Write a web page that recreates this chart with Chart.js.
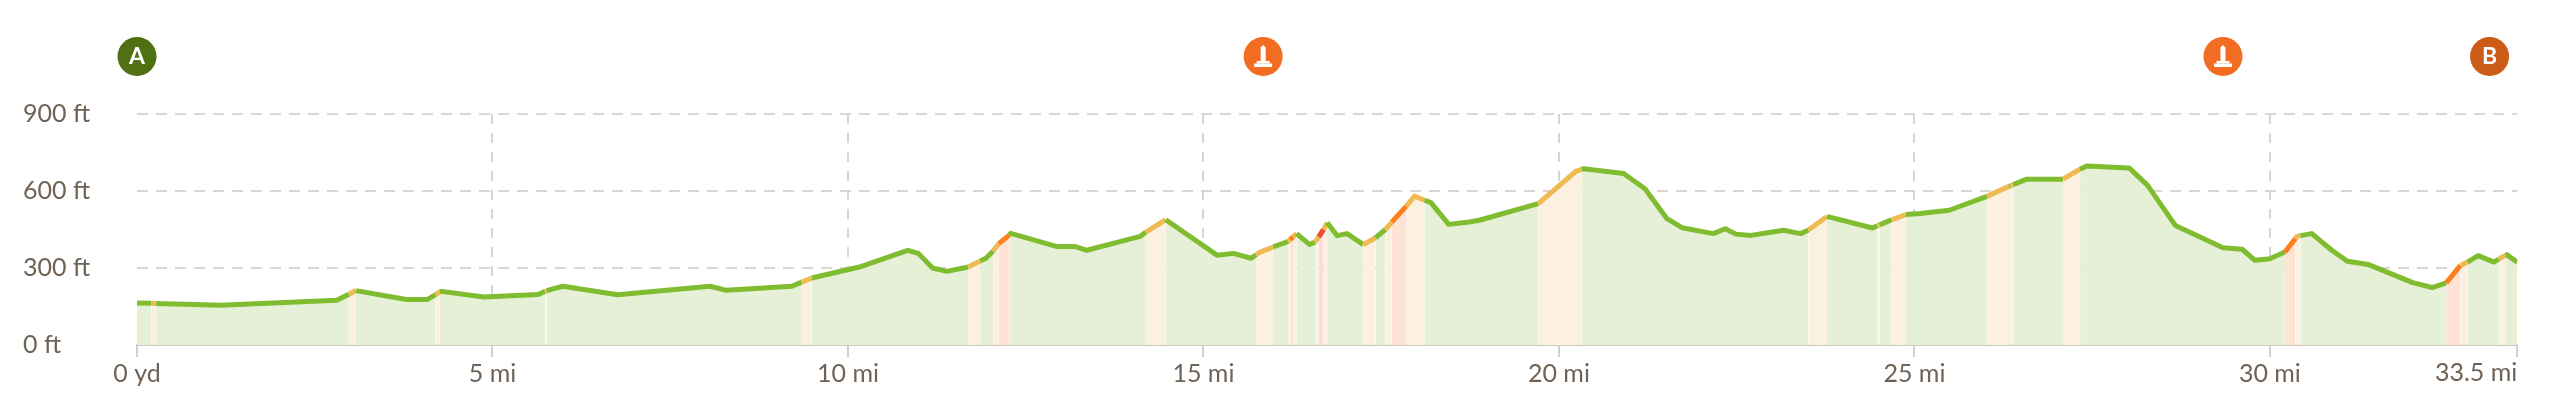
<!DOCTYPE html>
<html>
<head>
<meta charset="utf-8">
<title>Elevation profile</title>
<script src="https://cdn.jsdelivr.net/npm/chart.js@4"></script>
<style>
  html, body { margin: 0; padding: 0; background: #fff; }
  canvas { display: block; }
</style>
</head>
<body>
<canvas id="profile" width="2560" height="414"></canvas>
<script>
const miles = [0, 0.2, 0.27, 1.17, 2.81, 2.98, 3.08, 3.79, 4.08, 4.2, 4.26, 4.28, 4.88, 5.64, 5.74, 5.76, 5.99, 6.76, 8.06, 8.29,
  9.21, 9.35, 9.49, 10.19, 10.84, 10.99, 11.19, 11.39, 11.69, 11.86, 11.94, 12.04, 12.12, 12.27, 12.29, 12.93, 13.19, 13.36, 14.11, 14.19,
  14.47, 15.19, 15.42, 15.67, 15.74, 15.8, 15.98, 16.17, 16.19, 16.22, 16.26, 16.31, 16.49, 16.57, 16.62, 16.69, 16.74, 16.88, 17.02, 17.25,
  17.42, 17.56, 17.65, 17.85, 17.97, 18.11, 18.2, 18.45, 18.74, 18.88, 19.71, 20.24, 20.32, 20.35, 20.91, 21.21, 21.52, 21.73, 22.17, 22.34,
  22.49, 22.7, 23.16, 23.4, 23.51, 23.77, 24.41, 24.48, 24.51, 24.68, 24.88, 25.08, 25.49, 26.02, 26.33, 26.35, 26.39, 26.58, 27.09, 27.33,
  27.42, 28.02, 28.28, 28.67, 29.34, 29.61, 29.79, 30, 30.21, 30.36, 30.38, 30.43, 30.59, 30.87, 31.09, 31.38, 32.01, 32.28, 32.48, 32.68,
  32.78, 32.93, 33.15, 33.22, 33.32, 33.33, 33.48];
const feet = [164, 163, 162, 155, 174, 198, 212, 177, 177, 196, 207, 209, 187, 197, 209, 212, 229, 196, 229, 213,
  229, 245, 261, 306, 369, 357, 300, 287, 304, 327, 338, 365, 395, 428, 435, 384, 384, 369, 423, 440,
  488, 350, 357, 338, 352, 362, 382, 401, 404, 410, 422, 434, 392, 401, 421, 450, 477, 426, 434, 391,
  418, 450, 479, 540, 580, 564, 555, 470, 479, 486, 551, 677, 684, 687, 668, 609, 492, 457, 434, 453,
  432, 427, 447, 434, 448, 501, 456, 465, 468, 488, 508, 512, 525, 579, 618, 620, 625, 646, 646, 685,
  697, 690, 622, 466, 379, 373, 330, 336, 362, 415, 423, 426, 434, 369, 326, 314, 243, 224, 242, 310,
  323, 348, 323, 335, 350, 352, 323];

// steep stretches of the route: 1 = amber, 2 = orange, 3 = red
const bandStart = [0.2, 2.98, 4.2, 5.74, 9.35, 11.69, 12.04, 12.12, 14.19, 15.74, 16.19, 16.22, 16.26, 16.57, 16.62, 16.69, 17.25, 17.56, 17.65, 17.85,
  19.71, 23.51, 24.48, 24.68, 26.02, 26.35, 27.09, 30.21, 30.36, 32.48, 32.68, 33.22];
const bandEnd = [0.27, 3.08, 4.26, 5.76, 9.49, 11.86, 12.12, 12.27, 14.47, 15.98, 16.22, 16.26, 16.31, 16.62, 16.69, 16.74, 17.42, 17.65, 17.85, 18.11,
  20.32, 23.77, 24.51, 24.88, 26.33, 26.39, 27.33, 30.36, 30.43, 32.68, 32.78, 33.32];
const bandGrade = [1, 1, 1, 1, 1, 1, 1, 2, 1, 1, 1, 2, 1, 1, 3, 1, 1, 1, 2, 1,
  1, 1, 1, 1, 1, 1, 1, 2, 1, 2, 1, 1];

const xTicks = [0, 5, 10, 15, 20, 25, 30, 33.48];
const xTickLabels = ['0 yd', '5 mi', '10 mi', '15 mi', '20 mi', '25 mi', '30 mi', '33.5 mi'];
const yTicks = [0, 300, 600, 900];
const yTickLabels = ['0 ft', '300 ft', '600 ft', '900 ft'];

const markerMiles = [0, 15.84, 29.34, 33.09];
const markerLabels = ['A', '', '', 'B'];
const markerColors = ['#507014', '#f26c21', '#f26c21', '#cb5c17'];

const lineColors = ['#80bc30', '#edbb52', '#fc7e1d', '#ee4b2b'];
const fillColors = ['#e5f0d6', '#fcf1e0', '#fee3d4', '#fbdcd8'];
const textColor = '#6f6256';
const xMax = xTicks[xTicks.length - 1];

function gradeAt(ctx) {
    const mid = (ctx.p0.parsed.x + ctx.p1.parsed.x) / 2;
    for (let i = 0; i < bandStart.length; i++) {
        if (mid > bandStart[i] && mid < bandEnd[i]) return bandGrade[i];
    }
    return 0;
}

function drawMonument(c, x) {
    c.fillStyle = '#fff';
    c.beginPath();
    c.moveTo(x - 2.5, 61);
    c.lineTo(x - 2.5, 47.5);
    c.lineTo(x, 45);
    c.lineTo(x + 2.5, 47.5);
    c.lineTo(x + 2.5, 61);
    c.closePath();
    c.fill();
    c.fillRect(x - 6.5, 61, 13, 2.5);
    c.fillRect(x - 9, 63.5, 18, 3.5);
}

// round badges above the plot and the right aligned end label of the x axis
const overlay = {
    id: 'overlay',
    afterDraw(chart) {
        const c = chart.ctx;
        const xs = chart.scales.x;
        c.save();
        markerMiles.forEach((m, i) => {
            const x = xs.getPixelForValue(m);
            c.fillStyle = markerColors[i];
            c.beginPath();
            c.arc(x, 56.5, 19.5, 0, Math.PI * 2);
            c.fill();
            if (markerLabels[i]) {
                c.fillStyle = '#fff';
                c.font = 'bold 23px Lato, sans-serif';
                c.textAlign = 'center';
                c.textBaseline = 'middle';
                c.fillText(markerLabels[i], x, 57);
            } else {
                drawMonument(c, x);
            }
        });
        c.fillStyle = textColor;
        c.font = '400 25px Lato, sans-serif';
        c.textAlign = 'right';
        c.textBaseline = 'middle';
        c.fillText(xTickLabels[xTickLabels.length - 1], xs.getPixelForValue(xMax), 373);
        c.restore();
    }
};

new Chart(document.getElementById('profile'), {
    type: 'line',
    data: {
        datasets: [{
            data: miles.map((m, i) => ({ x: m, y: feet[i] })),
            borderColor: lineColors[0],
            backgroundColor: fillColors[0],
            borderWidth: 5,
            pointRadius: 0,
            tension: 0,
            fill: 'origin',
            borderJoinStyle: 'round',
            segment: {
                borderColor: ctx => lineColors[gradeAt(ctx)],
                backgroundColor: ctx => fillColors[gradeAt(ctx)]
            }
        }]
    },
    options: {
        responsive: false,
        animation: false,
        devicePixelRatio: 1,
        layout: { padding: { top: 114, left: 23, right: 42.7, bottom: 0 } },
        plugins: { legend: { display: false }, tooltip: { enabled: false } },
        scales: {
            x: {
                type: 'linear',
                min: 0,
                max: xMax,
                afterBuildTicks(scale) { scale.ticks = xTicks.map(v => ({ value: v })); },
                afterFit(scale) { scale.height = 69; },
                border: { display: true, color: '#cfcbc0', width: 2, dash: [10, 9] },
                grid: {
                    color: ctx => (ctx.tick && (ctx.tick.value === 0 || ctx.tick.value === xMax)) ? 'transparent' : '#d5d5d3',
                    tickColor: '#d0d0ce',
                    lineWidth: 2,
                    tickLength: 12
                },
                ticks: {
                    autoSkip: false,
                    maxRotation: 0,
                    color: textColor,
                    font: { family: 'Lato, sans-serif', size: 25, weight: '400' },
                    padding: 2,
                    callback(v) {
                        return v === xMax ? '' : xTickLabels[xTicks.indexOf(v)];
                    }
                }
            },
            y: {
                min: 0,
                max: 900,
                afterBuildTicks(scale) { scale.ticks = yTicks.map(v => ({ value: v })); },
                afterFit(scale) { scale.width = 114; },
                border: { display: false, dash: [11, 8] },
                grid: {
                    color: ctx => (ctx.tick && ctx.tick.value === 0) ? 'transparent' : '#dbd7ce',
                    lineWidth: 2,
                    drawTicks: false
                },
                ticks: {
                    color: textColor,
                    font: { family: 'Lato, sans-serif', size: 25, weight: '400' },
                    crossAlign: 'far',
                    padding: 0,
                    callback(v) { return yTickLabels[yTicks.indexOf(v)]; }
                }
            }
        }
    },
    plugins: [overlay]
});
</script>
</body>
</html>
